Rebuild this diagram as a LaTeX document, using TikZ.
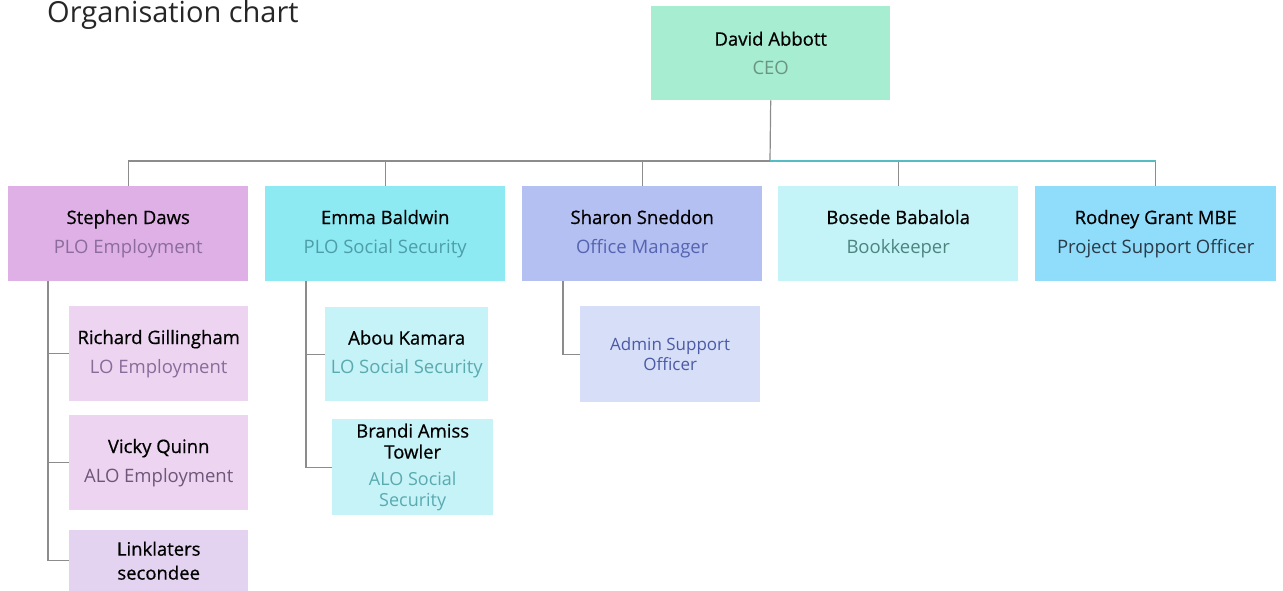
\documentclass[tikz,border=0pt]{standalone}
\usepackage{fontspec}
\setmainfont{Open Sans}
\newfontfamily\nmfont{Open Sans}[FakeBold=0.6]
\definecolor{ceoF}{HTML}{A6EDD2}\definecolor{ceoS}{HTML}{6B9485}
\definecolor{sdF}{HTML}{DEB0E6}\definecolor{sdS}{HTML}{8B6C9B}
\definecolor{ebF}{HTML}{8DEAF3}\definecolor{ebS}{HTML}{4E9EA8}
\definecolor{ssF}{HTML}{B4BFF2}\definecolor{ssS}{HTML}{5564B0}
\definecolor{bbF}{HTML}{C4F4F8}\definecolor{bbS}{HTML}{4C8580}
\definecolor{rgF}{HTML}{8FDDFA}\definecolor{rgS}{HTML}{2B3A48}
\definecolor{lpF}{HTML}{EDD5F1}\definecolor{lpS}{HTML}{8A6C9A}
\definecolor{lkF}{HTML}{E3D3F1}
\definecolor{lcF}{HTML}{C5F3F7}\definecolor{lcS}{HTML}{5AAAB0}
\definecolor{adF}{HTML}{D7DEF8}\definecolor{adS}{HTML}{4B5AA5}
\definecolor{connG}{HTML}{8C8C8C}\definecolor{connT}{HTML}{55BCC4}
\newcommand{\nm}[1]{{\nmfont\fontsize{18.5}{22}\selectfont #1}}
\begin{document}
\begin{tikzpicture}[x=1pt,y=-1pt,
  box/.style 2 args={draw=none, inner sep=0pt, align=center, anchor=north west,
    minimum width=#1, minimum height=#2, text=black,
    font=\fontsize{18.5}{22}\selectfont},
  conn/.style={draw=connG, line width=1.2pt},
  tconn/.style={draw=connT, line width=1.8pt}]
\useasboundingbox (0,0) rectangle (1283,591);
\node[anchor=base west, inner sep=0pt, font=\fontsize{29}{32}\selectfont, text=black!85] (title) at (47,23) {Organisation chart};

\node[box={239pt}{94pt}, fill=ceoF] (ceo) at (651,6) {\nm{David Abbott}\\[7pt]\color{ceoS}CEO};
\node[box={240pt}{95pt}, fill=sdF] (sd) at (8,186) {\nm{Stephen Daws}\\[7pt]\color{sdS}PLO Employment};
\node[box={240pt}{95pt}, fill=ebF] (eb) at (265,186) {\nm{Emma Baldwin}\\[7pt]\color{ebS}PLO Social Security};
\node[box={240pt}{95pt}, fill=ssF] (ss) at (522,186) {\nm{Sharon Sneddon}\\[7pt]\color{ssS}Office Manager};
\node[box={240pt}{95pt}, fill=bbF] (bb) at (778,186) {\nm{Bosede Babalola}\\[7pt]\color{bbS}Bookkeeper};
\node[box={241pt}{95pt}, fill=rgF] (rg) at (1035,186) {\nm{Rodney Grant MBE}\\[7pt]\color{rgS}Project Support Officer};

\node[box={179pt}{95pt}, fill=lpF] (rgi) at (69,306) {\nm{Richard Gillingham}\\[7pt]\color{lpS}LO Employment};
\node[box={179pt}{95pt}, fill=lpF] (vq) at (69,415) {\nm{Vicky Quinn}\\[7pt]\color{lpS!80!black}ALO Employment};
\node[box={179pt}{61pt}, fill=lkF] (lk) at (69,530) {\nm{Linklaters}\\[2pt]\nm{secondee}};

\node[box={163pt}{94pt}, fill=lcF] (ak) at (325,307) {\nm{Abou Kamara}\\[7pt]\color{lcS}LO Social Security};
\node[box={161pt}{96pt}, fill=lcF, font=\fontsize{18}{21}\selectfont] (bat) at (332,419) {\nm{Brandi Amiss}\\\nm{Towler}\\[6pt]\color{lcS}ALO Social\\\color{lcS}Security};

\node[box={180pt}{96pt}, fill=adF, font=\fontsize{17}{20}\selectfont] (ad) at (580,306) {\color{adS}Admin Support\\\color{adS}Officer};

\coordinate (hub) at (770,161);
\draw[conn] (ceo.south) -- (hub);
\draw[conn] (sd.north) |- (hub);
\draw[conn] (eb.north) -- (eb.north |- hub);
\draw[conn] (ss.north) -- (ss.north |- hub);
\draw[conn] (bb.north) -- (bb.north |- hub);
\draw[conn] (rg.north) -- (rg.north |- hub);
\draw[tconn] (hub) -- (rg.north |- hub);

\coordinate (sdt) at (48,281);
\draw[conn] (sdt) |- (lk.west);
\draw[conn] (sdt |- rgi.west) -- (rgi.west);
\draw[conn] (sdt |- vq.west) -- (vq.west);

\coordinate (ebt) at (306,281);
\draw[conn] (ebt) |- (bat.west);
\draw[conn] (ebt |- ak.west) -- (ak.west);

\coordinate (sst) at (563,281);
\draw[conn] (sst) |- (ad.west);
\end{tikzpicture}
\end{document}
